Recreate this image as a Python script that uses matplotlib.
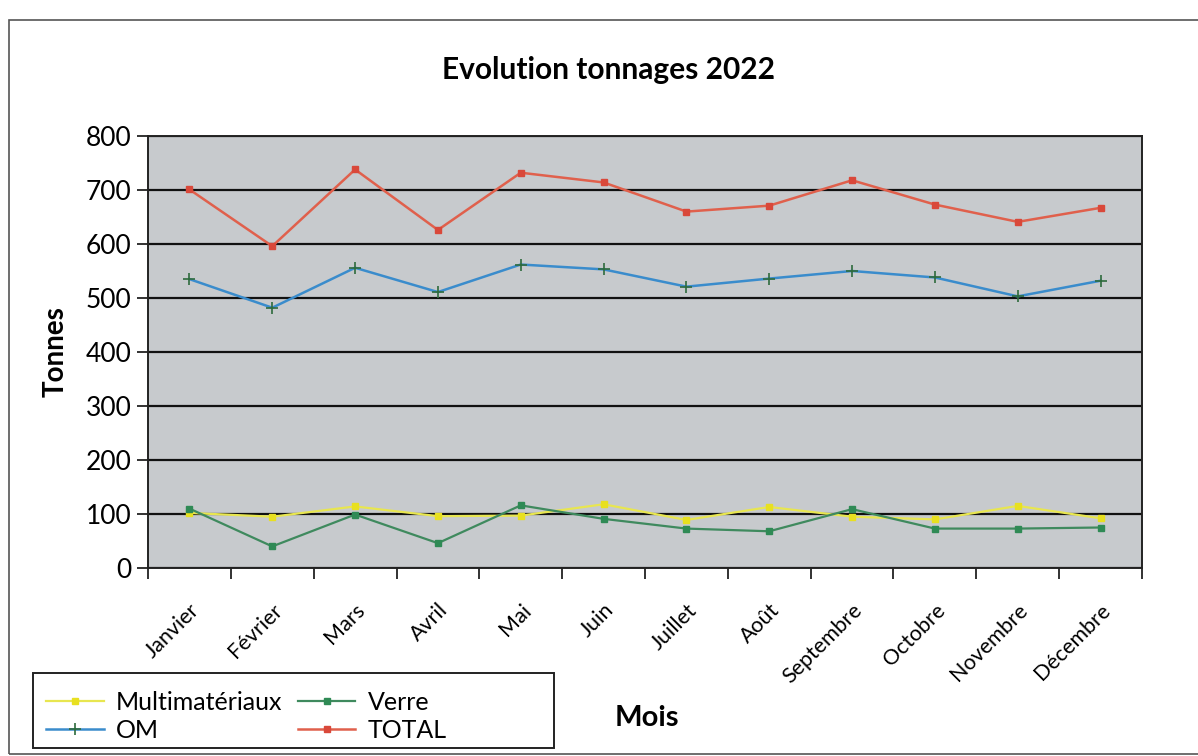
import matplotlib
matplotlib.use("Agg")
import matplotlib.pyplot as plt
from matplotlib.patches import Rectangle
from matplotlib.ticker import FixedLocator
from matplotlib.transforms import ScaledTranslation

plt.rcParams['font.family'] = ['Lato', 'DejaVu Sans']

months = ["Janvier", "Février", "Mars", "Avril", "Mai", "Juin", "Juillet",
          "Août", "Septembre", "Octobre", "Novembre", "Décembre"]
multimateriaux = [102, 95, 114, 96, 97, 118, 89, 113, 95, 90, 115, 92]
verre = [110, 40, 99, 46, 116, 91, 73, 68, 109, 73, 73, 75]
om = [535, 482, 556, 511, 562, 553, 521, 536, 550, 538, 503, 532]
total = [701, 596, 738, 626, 732, 714, 660, 671, 718, 673, 641, 667]
yticks = [0, 100, 200, 300, 400, 500, 600, 700, 800]

W, H = 1198, 756
fig = plt.figure(figsize=(W / 100, H / 100), dpi=100)
fig.patch.set_facecolor('white')

# outer chart frame
fig.patches.append(Rectangle((9 / W, 1 - 754 / H), 1.2, (754 - 20) / H,
                             transform=fig.transFigure, fill=False,
                             edgecolor='#555555', lw=1.2))
# legend box
fig.patches.append(Rectangle((33 / W, 1 - 748 / H), (554 - 33) / W, (748 - 673) / H,
                             transform=fig.transFigure, fill=False,
                             edgecolor='#222222', lw=1.4))

ax = fig.add_axes([148 / W, 1 - 568 / H, (1142 - 148) / W, (568 - 136) / H])
ax.set_facecolor('#c7cacd')

x = list(range(len(months)))
ax.plot(x, multimateriaux, color='#e8e650', lw=1.6, marker='s', ms=4,
        mfc='#e8e020', mec='#e8e020', label='Multimatériaux', zorder=4)
ax.plot(x, om, color='#3a8ccc', lw=1.8, marker='+', ms=9, mew=1.2,
        mec='#2e6b3c', label='OM', zorder=4)
ax.plot(x, verre, color='#3f8a5e', lw=1.6, marker='s', ms=4,
        mfc='#2f8a55', mec='#2f8a55', label='Verre', zorder=4)
ax.plot(x, total, color='#e0604c', lw=1.8, marker='s', ms=4,
        mfc='#d9483a', mec='#d9483a', label='TOTAL', zorder=4)

ax.set_ylim(0, 800)
ax.set_yticks(yticks)
ax.set_xlim(-0.5, len(months) - 0.5)
ax.set_xticks(x)
ax.set_xticklabels(months, rotation=45, ha='right', va='top',
                   rotation_mode='anchor', fontsize=15.5)
offset = ScaledTranslation(-9 / 100, 0, fig.dpi_scale_trans)
for lab in ax.get_xticklabels():
    lab.set_transform(lab.get_transform() + offset)
ax.xaxis.set_minor_locator(FixedLocator([i - 0.5 for i in range(len(months) + 1)]))
ax.tick_params(axis='x', which='major', length=0, pad=23)
ax.tick_params(axis='x', which='minor', length=8, width=1.3, direction='out', color='#222222')
ax.tick_params(axis='y', length=8, width=1.3, direction='out', labelsize=19, pad=4, color='#222222')

ax.yaxis.grid(True, color='#111111', lw=1.6)
ax.set_axisbelow(True)
for s in ax.spines.values():
    s.set_color('#222222')
    s.set_linewidth(1.4)

ax.set_ylabel('Tonnes', fontsize=20, fontweight='bold', labelpad=12)
fig.text(647 / W, 1 - 718 / H, 'Mois', fontsize=21, fontweight='bold',
         ha='center', va='center')
fig.text(609 / W, 1 - 70 / H, 'Evolution tonnages 2022', fontsize=21.5,
         fontweight='bold', ha='center', va='center')

handles, labels = ax.get_legend_handles_labels()
leg = fig.legend(handles, labels, ncol=2, loc='lower left',
                 bbox_to_anchor=(40 / W, 1 - 748 / H),
                 fontsize=18, frameon=False, handlelength=2.3,
                 handletextpad=0.5, borderpad=0.25,
                 labelspacing=0.2, columnspacing=0.6, borderaxespad=0)

fig.savefig('out.png', dpi=100, facecolor='white')
